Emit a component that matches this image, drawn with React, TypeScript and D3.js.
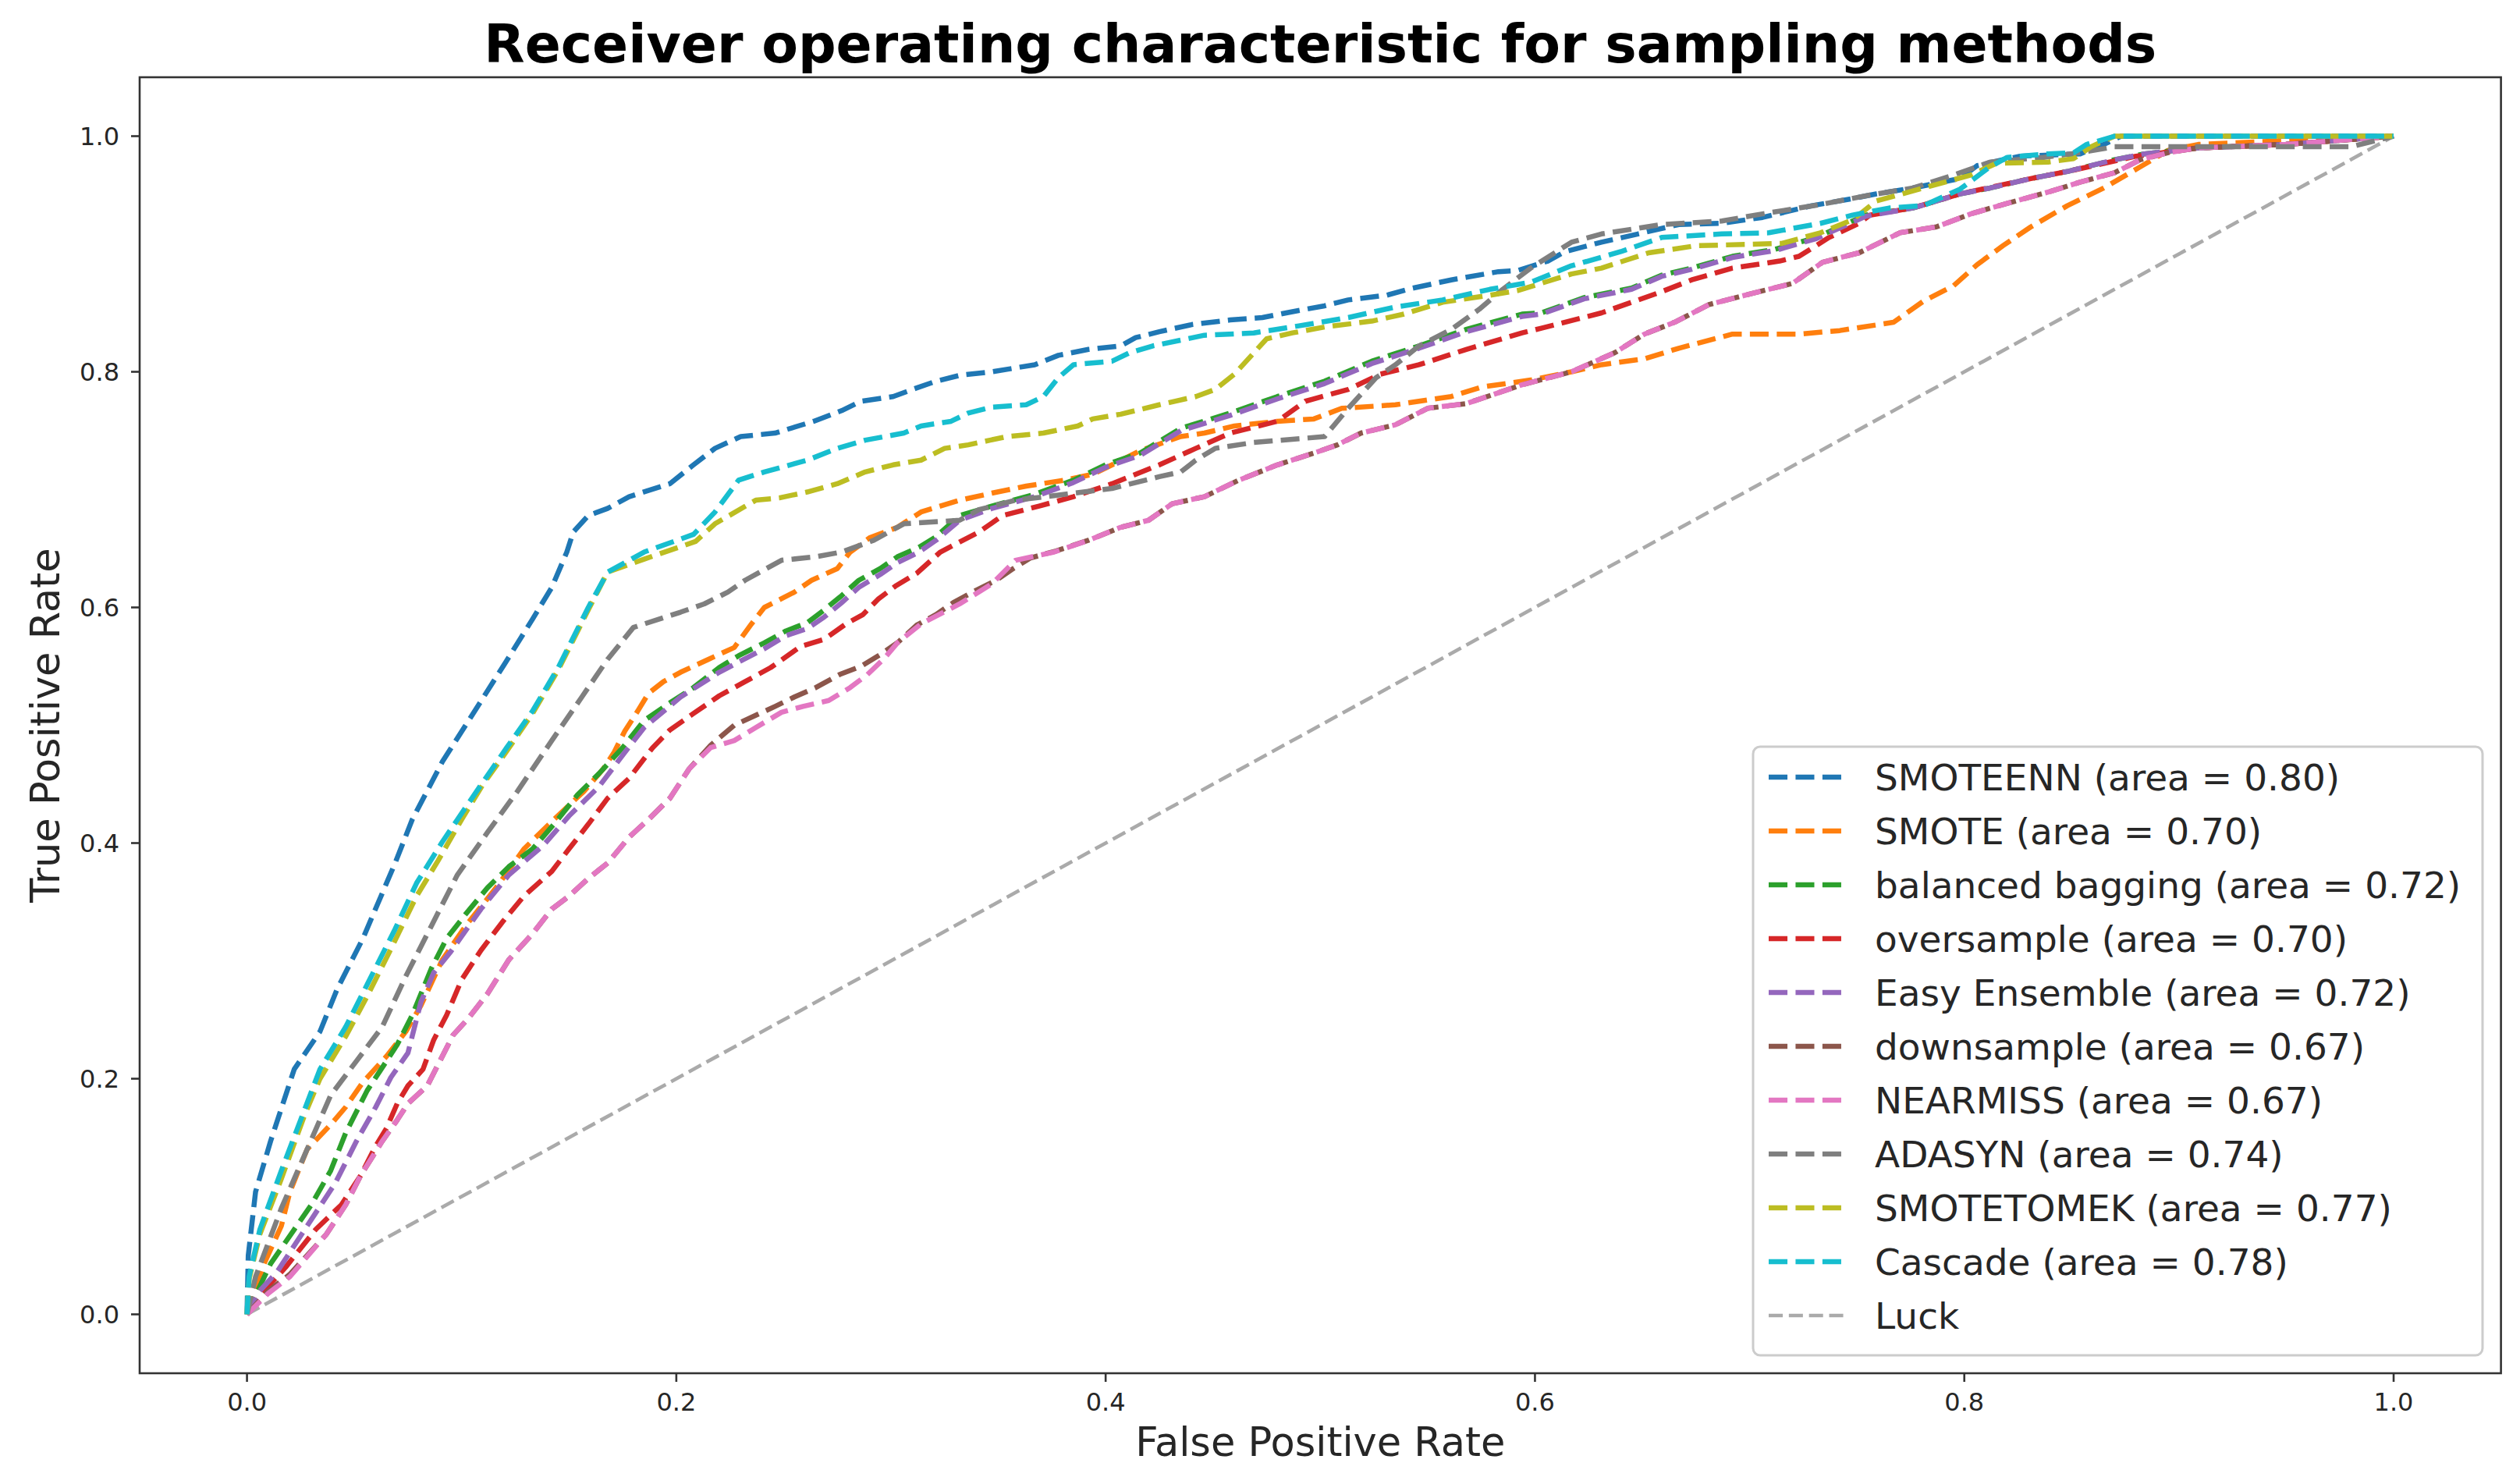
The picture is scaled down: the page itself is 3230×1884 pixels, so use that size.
import { useEffect } from 'react'
import * as d3 from 'd3'

type Pt = [number, number]

// ROC points, [fpr, tpr]
const smoteenn: Pt[] = [[0,0],[0.0006,0.05],[0.004,0.104],[0.011,0.147],[0.022,0.208],[0.034,0.24],[0.042,0.276],[0.054,0.319],[0.069,0.383],[0.077,0.42],[0.091,0.469],[0.105,0.509],[0.12,0.552],[0.133,0.59],[0.142,0.617],[0.149,0.647],[0.152,0.664],[0.159,0.678],[0.168,0.684],[0.178,0.694],[0.197,0.705],[0.208,0.721],[0.218,0.735],[0.23,0.745],[0.246,0.748],[0.264,0.758],[0.277,0.767],[0.286,0.775],[0.301,0.779],[0.31,0.785],[0.321,0.792],[0.332,0.797],[0.347,0.8],[0.367,0.806],[0.378,0.814],[0.392,0.819],[0.407,0.822],[0.414,0.829],[0.425,0.834],[0.44,0.84],[0.458,0.844],[0.473,0.846],[0.487,0.851],[0.502,0.856],[0.513,0.861],[0.531,0.865],[0.543,0.871],[0.561,0.878],[0.583,0.885],[0.592,0.886],[0.606,0.894],[0.614,0.902],[0.631,0.91],[0.648,0.917],[0.667,0.925],[0.687,0.926],[0.706,0.931],[0.729,0.941],[0.748,0.947],[0.759,0.951],[0.776,0.956],[0.798,0.964],[0.806,0.975],[0.818,0.98],[0.826,0.983],[0.854,0.985],[0.865,0.993],[0.873,1],[1,1]]

const smote: Pt[] = [[0,0],[0.004,0.02],[0.008,0.043],[0.016,0.075],[0.02,0.104],[0.028,0.14],[0.039,0.161],[0.046,0.176],[0.054,0.197],[0.065,0.219],[0.074,0.24],[0.081,0.262],[0.091,0.301],[0.102,0.33],[0.116,0.362],[0.129,0.395],[0.143,0.42],[0.157,0.444],[0.166,0.463],[0.171,0.477],[0.176,0.495],[0.182,0.512],[0.187,0.527],[0.194,0.537],[0.202,0.545],[0.215,0.556],[0.227,0.566],[0.235,0.586],[0.241,0.6],[0.255,0.613],[0.263,0.623],[0.275,0.633],[0.281,0.647],[0.29,0.659],[0.303,0.668],[0.314,0.681],[0.332,0.691],[0.347,0.697],[0.363,0.703],[0.381,0.708],[0.394,0.713],[0.403,0.721],[0.416,0.733],[0.435,0.745],[0.446,0.748],[0.46,0.754],[0.48,0.758],[0.497,0.76],[0.51,0.769],[0.535,0.772],[0.561,0.779],[0.575,0.787],[0.598,0.793],[0.617,0.8],[0.631,0.806],[0.651,0.811],[0.667,0.82],[0.692,0.832],[0.723,0.832],[0.742,0.835],[0.767,0.842],[0.781,0.86],[0.795,0.873],[0.806,0.891],[0.818,0.907],[0.831,0.923],[0.848,0.941],[0.865,0.956],[0.882,0.974],[0.895,0.988],[0.909,0.993],[1,1]]

const balancedBagging: Pt[] = [[0,0],[0.005,0.02],[0.011,0.043],[0.022,0.072],[0.03,0.093],[0.039,0.122],[0.046,0.154],[0.056,0.19],[0.065,0.215],[0.07,0.229],[0.077,0.254],[0.086,0.294],[0.093,0.319],[0.102,0.34],[0.112,0.362],[0.122,0.38],[0.133,0.395],[0.143,0.416],[0.154,0.441],[0.164,0.459],[0.175,0.481],[0.185,0.504],[0.197,0.519],[0.208,0.532],[0.22,0.549],[0.229,0.559],[0.241,0.57],[0.251,0.58],[0.261,0.587],[0.269,0.598],[0.277,0.61],[0.285,0.623],[0.295,0.633],[0.303,0.643],[0.313,0.651],[0.321,0.66],[0.332,0.678],[0.347,0.686],[0.367,0.696],[0.385,0.708],[0.4,0.721],[0.416,0.731],[0.435,0.752],[0.458,0.765],[0.48,0.779],[0.502,0.792],[0.524,0.809],[0.546,0.822],[0.568,0.836],[0.594,0.849],[0.603,0.85],[0.623,0.863],[0.645,0.871],[0.659,0.882],[0.673,0.888],[0.692,0.898],[0.712,0.904],[0.731,0.914],[0.754,0.933],[0.776,0.939],[0.798,0.951],[0.812,0.956],[0.831,0.964],[0.848,0.97],[0.87,0.98],[0.884,0.985],[0.909,0.99],[0.95,0.993],[1,1]]

const oversample: Pt[] = [[0,0],[0.008,0.02],[0.018,0.04],[0.032,0.072],[0.044,0.093],[0.053,0.118],[0.06,0.143],[0.065,0.158],[0.07,0.179],[0.075,0.194],[0.082,0.208],[0.087,0.233],[0.093,0.254],[0.1,0.284],[0.109,0.309],[0.119,0.333],[0.129,0.355],[0.142,0.376],[0.15,0.395],[0.159,0.416],[0.168,0.438],[0.178,0.455],[0.189,0.481],[0.197,0.496],[0.208,0.51],[0.22,0.525],[0.232,0.537],[0.244,0.549],[0.258,0.567],[0.269,0.573],[0.279,0.586],[0.287,0.594],[0.294,0.607],[0.302,0.618],[0.312,0.629],[0.323,0.647],[0.341,0.664],[0.352,0.678],[0.369,0.686],[0.385,0.694],[0.403,0.705],[0.425,0.721],[0.442,0.735],[0.458,0.748],[0.48,0.758],[0.493,0.775],[0.513,0.785],[0.528,0.798],[0.546,0.806],[0.568,0.819],[0.594,0.833],[0.603,0.837],[0.631,0.85],[0.659,0.868],[0.673,0.878],[0.692,0.888],[0.714,0.894],[0.723,0.898],[0.737,0.914],[0.751,0.926],[0.756,0.933],[0.776,0.939],[0.798,0.951],[0.831,0.964],[0.848,0.97],[0.88,0.983],[0.909,0.99],[0.95,0.993],[1,1]]

const easyEnsemble: Pt[] = [[0,0],[0.006,0.02],[0.014,0.036],[0.028,0.075],[0.041,0.111],[0.051,0.147],[0.06,0.176],[0.067,0.201],[0.075,0.222],[0.081,0.265],[0.087,0.29],[0.095,0.308],[0.109,0.344],[0.122,0.373],[0.138,0.398],[0.15,0.423],[0.164,0.448],[0.176,0.477],[0.185,0.498],[0.202,0.524],[0.22,0.545],[0.241,0.565],[0.251,0.576],[0.261,0.582],[0.269,0.592],[0.277,0.604],[0.285,0.617],[0.295,0.628],[0.303,0.638],[0.313,0.647],[0.321,0.657],[0.332,0.674],[0.347,0.684],[0.367,0.694],[0.385,0.706],[0.4,0.719],[0.416,0.729],[0.435,0.75],[0.458,0.763],[0.48,0.777],[0.502,0.79],[0.524,0.807],[0.546,0.82],[0.568,0.834],[0.594,0.847],[0.603,0.849],[0.623,0.862],[0.645,0.87],[0.659,0.881],[0.673,0.887],[0.692,0.897],[0.712,0.903],[0.731,0.913],[0.754,0.932],[0.776,0.939],[0.798,0.951],[0.812,0.956],[0.831,0.964],[0.848,0.97],[0.87,0.98],[0.884,0.985],[0.909,0.99],[0.95,0.993],[1,1]]

const downsample: Pt[] = [[0,0],[0.01,0.02],[0.02,0.034],[0.037,0.068],[0.046,0.093],[0.053,0.118],[0.063,0.147],[0.07,0.165],[0.075,0.179],[0.084,0.194],[0.091,0.219],[0.096,0.237],[0.103,0.251],[0.112,0.272],[0.122,0.301],[0.133,0.323],[0.142,0.344],[0.15,0.355],[0.159,0.37],[0.168,0.383],[0.178,0.405],[0.187,0.42],[0.197,0.438],[0.206,0.463],[0.216,0.483],[0.227,0.5],[0.246,0.516],[0.255,0.524],[0.265,0.532],[0.276,0.543],[0.286,0.55],[0.295,0.56],[0.303,0.57],[0.312,0.585],[0.321,0.594],[0.329,0.604],[0.339,0.614],[0.349,0.623],[0.357,0.633],[0.365,0.642],[0.377,0.648],[0.392,0.657],[0.407,0.668],[0.42,0.674],[0.431,0.688],[0.446,0.694],[0.462,0.708],[0.48,0.721],[0.497,0.731],[0.508,0.738],[0.519,0.748],[0.535,0.755],[0.55,0.769],[0.568,0.773],[0.594,0.789],[0.617,0.8],[0.637,0.816],[0.651,0.832],[0.665,0.842],[0.681,0.857],[0.7,0.866],[0.72,0.875],[0.734,0.893],[0.751,0.901],[0.77,0.918],[0.787,0.923],[0.803,0.934],[0.82,0.943],[0.84,0.953],[0.854,0.961],[0.87,0.969],[0.882,0.98],[0.895,0.986],[0.909,0.99],[0.95,0.993],[1,1]]

const nearmiss: Pt[] = [[0,0],[0.01,0.018],[0.02,0.032],[0.037,0.068],[0.046,0.093],[0.053,0.118],[0.063,0.147],[0.07,0.165],[0.075,0.179],[0.084,0.194],[0.091,0.219],[0.096,0.237],[0.103,0.251],[0.112,0.272],[0.122,0.301],[0.133,0.323],[0.142,0.344],[0.15,0.355],[0.159,0.37],[0.168,0.383],[0.178,0.405],[0.187,0.42],[0.197,0.438],[0.206,0.463],[0.216,0.481],[0.227,0.487],[0.237,0.498],[0.249,0.511],[0.259,0.516],[0.271,0.521],[0.281,0.532],[0.289,0.543],[0.297,0.557],[0.303,0.57],[0.314,0.586],[0.332,0.603],[0.347,0.62],[0.358,0.64],[0.376,0.647],[0.392,0.657],[0.407,0.668],[0.42,0.674],[0.431,0.688],[0.446,0.694],[0.462,0.708],[0.48,0.721],[0.497,0.731],[0.508,0.738],[0.519,0.748],[0.535,0.755],[0.55,0.769],[0.568,0.773],[0.594,0.789],[0.617,0.8],[0.637,0.816],[0.651,0.832],[0.665,0.842],[0.681,0.857],[0.7,0.866],[0.72,0.875],[0.734,0.893],[0.751,0.901],[0.77,0.918],[0.787,0.923],[0.803,0.934],[0.82,0.943],[0.84,0.953],[0.854,0.961],[0.87,0.969],[0.882,0.98],[0.895,0.986],[0.909,0.99],[0.95,0.993],[1,1]]

const adasyn: Pt[] = [[0,0],[0.004,0.032],[0.016,0.09],[0.028,0.14],[0.039,0.186],[0.051,0.215],[0.063,0.244],[0.074,0.287],[0.086,0.33],[0.098,0.373],[0.112,0.409],[0.126,0.444],[0.142,0.487],[0.156,0.524],[0.168,0.556],[0.18,0.583],[0.202,0.596],[0.213,0.603],[0.224,0.613],[0.232,0.623],[0.249,0.64],[0.265,0.643],[0.277,0.647],[0.292,0.657],[0.306,0.671],[0.332,0.674],[0.341,0.683],[0.358,0.691],[0.381,0.696],[0.403,0.701],[0.425,0.711],[0.435,0.715],[0.442,0.725],[0.451,0.735],[0.469,0.74],[0.502,0.745],[0.513,0.769],[0.526,0.795],[0.535,0.806],[0.546,0.822],[0.561,0.836],[0.574,0.853],[0.585,0.87],[0.598,0.888],[0.617,0.91],[0.631,0.917],[0.659,0.925],[0.687,0.928],[0.706,0.934],[0.733,0.942],[0.756,0.95],[0.776,0.956],[0.795,0.967],[0.812,0.978],[0.837,0.982],[0.854,0.986],[0.87,0.991],[0.98,0.991],[1,1]]

const smotetomek: Pt[] = [[0,0],[0.001,0.03],[0.006,0.068],[0.016,0.115],[0.027,0.17],[0.034,0.2],[0.046,0.236],[0.056,0.27],[0.067,0.31],[0.079,0.355],[0.089,0.385],[0.1,0.42],[0.11,0.45],[0.121,0.478],[0.133,0.51],[0.145,0.547],[0.159,0.598],[0.168,0.63],[0.185,0.641],[0.209,0.656],[0.218,0.671],[0.237,0.691],[0.248,0.693],[0.261,0.698],[0.275,0.705],[0.288,0.715],[0.301,0.721],[0.314,0.725],[0.325,0.735],[0.336,0.738],[0.354,0.745],[0.371,0.748],[0.387,0.754],[0.394,0.76],[0.407,0.764],[0.425,0.772],[0.442,0.779],[0.451,0.785],[0.46,0.798],[0.469,0.816],[0.475,0.828],[0.487,0.833],[0.502,0.838],[0.524,0.843],[0.539,0.849],[0.557,0.859],[0.579,0.865],[0.592,0.869],[0.617,0.883],[0.631,0.888],[0.653,0.901],[0.675,0.907],[0.715,0.909],[0.733,0.918],[0.748,0.929],[0.759,0.945],[0.781,0.956],[0.803,0.967],[0.815,0.977],[0.839,0.978],[0.851,0.981],[0.859,0.991],[0.87,1],[1,1]]

const cascade: Pt[] = [[0,0],[0.001,0.032],[0.006,0.072],[0.016,0.122],[0.025,0.165],[0.034,0.208],[0.046,0.244],[0.056,0.28],[0.069,0.327],[0.079,0.366],[0.091,0.401],[0.107,0.444],[0.121,0.481],[0.133,0.512],[0.145,0.549],[0.159,0.6],[0.168,0.63],[0.185,0.647],[0.208,0.662],[0.218,0.681],[0.229,0.708],[0.241,0.715],[0.261,0.725],[0.275,0.735],[0.288,0.742],[0.306,0.748],[0.314,0.754],[0.328,0.758],[0.336,0.765],[0.347,0.77],[0.363,0.772],[0.371,0.779],[0.378,0.795],[0.385,0.806],[0.403,0.809],[0.411,0.816],[0.422,0.822],[0.446,0.831],[0.469,0.833],[0.49,0.839],[0.513,0.846],[0.535,0.855],[0.557,0.861],[0.579,0.87],[0.598,0.876],[0.617,0.89],[0.64,0.902],[0.659,0.914],[0.687,0.917],[0.709,0.918],[0.733,0.926],[0.748,0.933],[0.765,0.939],[0.781,0.941],[0.798,0.955],[0.812,0.974],[0.82,0.982],[0.839,0.985],[0.851,0.986],[0.857,0.993],[0.87,1],[1,1]]

const luck: Pt[] = [[0,0],[1,1]]

const seriesNames = ['SMOTEENN', 'SMOTE', 'balanced bagging', 'oversample', 'Easy Ensemble', 'downsample', 'NEARMISS', 'ADASYN', 'SMOTETOMEK', 'Cascade']
const seriesAreas = [0.80, 0.70, 0.72, 0.70, 0.72, 0.67, 0.67, 0.74, 0.77, 0.78]
const seriesData = [smoteenn, smote, balancedBagging, oversample, easyEnsemble, downsample, nearmiss, adasyn, smotetomek, cascade]
const seriesColors = ['#1f77b4', '#ff7f0e', '#2ca02c', '#d62728', '#9467bd', '#8c564b', '#e377c2', '#7f7f7f', '#bcbd22', '#17becf']

const xTicks = [0, 0.2, 0.4, 0.6, 0.8, 1.0]
const yTicks = [0, 0.2, 0.4, 0.6, 0.8, 1.0]

const W = 3230
const H = 1884
const FONT = 'DejaVu Sans, Verdana, sans-serif'

export default function App() {
  useEffect(() => {
    document.body.style.margin = '0'
  }, [])

  const left = 179
  const right = 3205.6
  const top = 99
  const bottom = 1760

  const x = d3.scaleLinear().domain([-0.05, 1.05]).range([left, right])
  const y = d3.scaleLinear().domain([-0.05, 1.05]).range([bottom, top])

  const line = d3.line<Pt>().x((d) => x(d[0])).y((d) => y(d[1]))

  const lw = 6.5
  const dash = `${3.7 * 3.25 * 2},${1.6 * 3.25 * 2}`
  const luckLw = 4.6
  const luckDash = `${3.7 * 3.25 * 1.5},${1.6 * 3.25 * 1.5}`

  const fmt = d3.format('.1f')

  // legend geometry
  const legFont = 47
  const legRight = 3182
  const legBottom = 1737
  const legLeft = 2247
  const legTop = 957
  const rowH = 69
  const firstRow = 996
  const handleX0 = 2267
  const handleX1 = 2363
  const textX = 2403

  const legendItems = [
    ...seriesNames.map((n, i) => ({
      label: `${n} (area = ${seriesAreas[i].toFixed(2)})`,
      color: seriesColors[i],
      width: lw,
      dash,
    })),
    { label: 'Luck', color: '#aaaaaa', width: luckLw, dash: luckDash },
  ]

  return (
    <svg width={W} height={H} viewBox={`0 0 ${W} ${H}`} style={{ display: 'block', background: '#fff' }}>
      <defs>
        <clipPath id="plot-clip">
          <rect x={left} y={top} width={right - left} height={bottom - top} />
        </clipPath>
      </defs>

      <text x={(left + right) / 2} y={80} textAnchor="middle" fontFamily={FONT} fontWeight="bold" fontSize={68} fill="#000">
        Receiver operating characteristic for sampling methods
      </text>

      <g clipPath="url(#plot-clip)">
        <path d={line(luck) ?? ''} fill="none" stroke="#aaaaaa" strokeWidth={luckLw} strokeDasharray={luckDash} />
        {seriesData.map((s, i) => (
          <path
            key={seriesNames[i]}
            d={line(s) ?? ''}
            fill="none"
            stroke={seriesColors[i]}
            strokeWidth={lw}
            strokeDasharray={dash}
            strokeLinejoin="round"
          />
        ))}
      </g>

      {/* frame */}
      <rect x={left} y={top} width={right - left} height={bottom - top} fill="none" stroke="#333" strokeWidth={2.6} />

      {/* x axis */}
      {xTicks.map((t) => (
        <g key={`x${t}`}>
          <line x1={x(t)} x2={x(t)} y1={bottom} y2={bottom + 11} stroke="#333" strokeWidth={2.6} />
          <text x={x(t)} y={1808} textAnchor="middle" fontFamily={FONT} fontSize={32} fill="#262626">
            {fmt(t)}
          </text>
        </g>
      ))}
      {/* y axis */}
      {yTicks.map((t) => (
        <g key={`y${t}`}>
          <line x1={left - 11} x2={left} y1={y(t)} y2={y(t)} stroke="#333" strokeWidth={2.6} />
          <text x={153} y={y(t) + 11.5} textAnchor="end" fontFamily={FONT} fontSize={32} fill="#262626">
            {fmt(t)}
          </text>
        </g>
      ))}

      <text x={(left + right) / 2} y={1866} textAnchor="middle" fontFamily={FONT} fontSize={51} fill="#262626">
        False Positive Rate
      </text>
      <text
        transform={`translate(76,${(top + bottom) / 2}) rotate(-90)`}
        textAnchor="middle"
        fontFamily={FONT}
        fontSize={51}
        fill="#262626"
      >
        True Positive Rate
      </text>

      {/* legend */}
      <rect
        x={legLeft}
        y={legTop}
        width={legRight - legLeft}
        height={legBottom - legTop}
        rx={9}
        fill="#fff"
        fillOpacity={0.8}
        stroke="#cccccc"
        strokeWidth={3}
      />
      {legendItems.map((it, i) => {
        const cy = firstRow + i * rowH
        return (
          <g key={it.label}>
            <line x1={handleX0} x2={handleX1} y1={cy} y2={cy} stroke={it.color} strokeWidth={it.width} strokeDasharray={it.dash} />
            <text x={textX} y={cy + 17} fontFamily={FONT} fontSize={legFont} fill="#262626">
              {it.label}
            </text>
          </g>
        )
      })}
    </svg>
  )
}
